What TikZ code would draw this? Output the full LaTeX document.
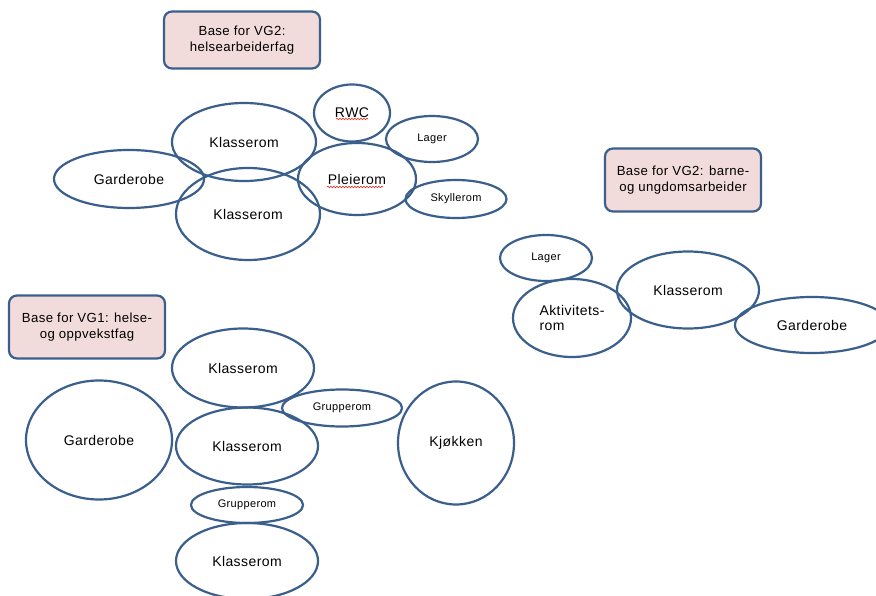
\documentclass[tikz,border=0pt]{standalone}
\usepackage{fontspec}
\setmainfont{Liberation Sans}
\newfontfamily\roomfont[LetterSpace=3]{Liberation Sans}
\usetikzlibrary{shapes.geometric,decorations.pathmorphing}
\definecolor{rimblue}{HTML}{3B5F8D}
\definecolor{basepink}{HTML}{F2DCDB}
\definecolor{squiggle}{HTML}{E03030}

\begin{document}
\begin{tikzpicture}[x=1pt,y=-1pt,
  room/.style={ellipse, draw=rimblue, line width=2.2pt, inner sep=0pt,
    font=\roomfont\fontsize{14}{15}\selectfont},
  smallroom/.style={room, font=\roomfont\fontsize{11}{12}\selectfont},
  basebox/.style={rectangle, rounded corners=8pt, draw=rimblue, fill=basepink,
    line width=2.2pt, minimum width=156pt, align=center, inner sep=0pt,
    font=\roomfont\fontsize{13.2}{15.5}\selectfont},
  spell/.style={squiggle, line width=0.6pt, decorate,
    decoration={snake, amplitude=0.8pt, segment length=3pt}}]

\clip (0,0) rectangle (876,596);
\fill[white] (0,0) rectangle (876,596);

% --- headings of the three bases ---
\node[basebox, minimum height=57pt] (vg2helse) at (242,40) {Base for VG2:\\helsearbeiderfag};
\node[basebox, minimum height=63pt] (vg2barne) at (683,180) {Base for VG2: barne-\\og ungdomsarbeider};
\node[basebox, minimum height=63pt] (vg1) at (87,327) {Base for VG1: helse-\\og oppvekstfag};

% --- VG2 helsearbeiderfag ---
\node[room, minimum width=144pt, minimum height=78pt] (hkl1) at (244,142) {Klasserom};
\node[room, minimum width=150pt, minimum height=58pt] (hgard) at (129,179) {Garderobe};
\node[room, minimum width=144pt, minimum height=92pt] (hkl2) at (248,214) {Klasserom};
\node[room, minimum width=76pt, minimum height=57pt] (rwc) at (352,113) {RWC};
\node[room, minimum width=118pt, minimum height=72pt] (pleie) at (357,179) {Pleierom};
\node[smallroom, minimum width=92pt, minimum height=46pt] (hlager) at (432,139) {Lager};
\node[smallroom, minimum width=101pt, minimum height=38pt] (skyll) at (456,199) {Skyllerom};
\draw[spell] ([xshift=-16pt,yshift=-6pt]rwc.center) -- ([xshift=16pt,yshift=-6pt]rwc.center);
\draw[spell] ([xshift=-30pt,yshift=-8pt]pleie.center) -- ([xshift=26pt,yshift=-8pt]pleie.center);

% --- VG2 barne- og ungdomsarbeider ---
\node[smallroom, minimum width=92pt, minimum height=46pt] (blager) at (546,258) {Lager};
\node[room, minimum width=118pt, minimum height=78pt, align=left] (aktiv) at (572,318) {Aktivitets-\\rom};
\node[room, minimum width=142pt, minimum height=77pt] (bkl) at (688,290) {Klasserom};
\node[room, minimum width=154pt, minimum height=56pt] (bgard) at (812,325) {Garderobe};

% --- VG1 helse- og oppvekstfag ---
\node[room, minimum width=142pt, minimum height=79pt] (vkl1) at (243,368) {Klasserom};
\node[room, minimum width=146pt, minimum height=119pt] (vgard) at (99,440) {Garderobe};
\node[smallroom, minimum width=120pt, minimum height=37pt] (vgr1) at (342,408) {Grupperom};
\node[room, minimum width=142pt, minimum height=77pt] (vkl2) at (247,446) {Klasserom};
\node[room, minimum width=116pt, minimum height=123pt] (kjokken) at (456,443) {Kjøkken};
\node[smallroom, minimum width=112pt, minimum height=36pt] (vgr2) at (247,505) {Grupperom};
\node[room, minimum width=142pt, minimum height=76pt] (vkl3) at (247,561) {Klasserom};
\end{tikzpicture}
\end{document}
